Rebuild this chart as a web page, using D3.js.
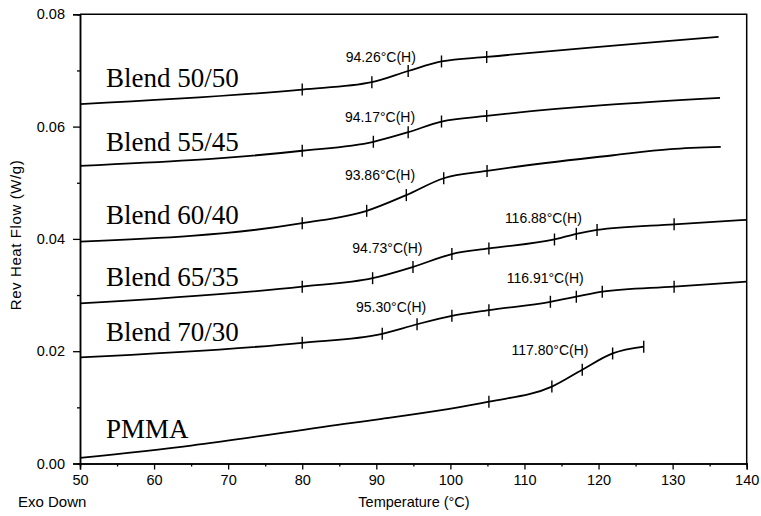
<!DOCTYPE html>
<html>
<head>
<meta charset="utf-8">
<script src="https://cdn.jsdelivr.net/npm/d3@7"></script>
<style>
  body { margin: 0; background: #fff; }
  text { font-family: "Liberation Sans", Arial, sans-serif; fill: #000; }
</style>
</head>
<body>
<div id="chart"></div>
<script>
// temperatures (°C) and reversing heat flow (W/g)
const temp5050 = [50, 80, 89.4, 94.3, 98.8, 104.9, 136.2];
const flow5050 = [0.0640, 0.0666, 0.0679, 0.0699, 0.0716, 0.0724, 0.0760];
const mark5050 = [80, 89.4, 94.3, 98.8, 104.9];

const temp5545 = [50, 80, 89.6, 94.3, 98.8, 104.9, 136.4];
const flow5545 = [0.0530, 0.0557, 0.0573, 0.0590, 0.0609, 0.0619, 0.0651];
const mark5545 = [80, 89.6, 94.3, 98.8, 104.9];

const temp6040 = [50, 80, 88.7, 94.05, 99.1, 104.95, 122, 129.7, 136.5];
const flow6040 = [0.0395, 0.0428, 0.0450, 0.0478, 0.0508, 0.0521, 0.0549, 0.0560, 0.0564];
const mark6040 = [80, 88.7, 94.05, 99.1, 104.95];

const temp6535 = [50, 80, 89.5, 94.95, 100.2, 105.2, 114.05, 117, 119.8, 130.2, 140];
const flow6535 = [0.0285, 0.0315, 0.0330, 0.0350, 0.0373, 0.0383, 0.0399, 0.0409, 0.0416, 0.0426, 0.0434];
const mark6535 = [80, 89.5, 94.95, 100.2, 105.2, 114.05, 117, 119.8, 130.2];

const temp7030 = [50, 80, 90.8, 95.5, 100.2, 105.2, 113.5, 117, 120.5, 130.2, 140];
const flow7030 = [0.0189, 0.0215, 0.0231, 0.0248, 0.0263, 0.0273, 0.0288, 0.0297, 0.0306, 0.0315, 0.0324];
const mark7030 = [80, 90.8, 95.5, 100.2, 105.2, 113.5, 117, 120.5, 130.2];

const tempPMMA = [50, 65, 86.5, 90.5, 105.2, 113.7, 117.8, 121.9, 126.1];
const flowPMMA = [0.0010, 0.0032, 0.0072, 0.0079, 0.0110, 0.0137, 0.0167, 0.0196, 0.0208];
const markPMMA = [105.2, 113.7, 117.8, 121.9, 126.1];

const seriesNames = ["Blend 50/50", "Blend 55/45", "Blend 60/40", "Blend 65/35", "Blend 70/30", "PMMA"];
const tgTexts = ["94.26°C(H)", "94.17°C(H)", "93.86°C(H)", "94.73°C(H)", "116.88°C(H)", "95.30°C(H)", "116.91°C(H)", "117.80°C(H)"];

const xTicks = [50, 60, 70, 80, 90, 100, 110, 120, 130, 140];
const yTicks = [0, 0.02, 0.04, 0.06, 0.08];

// annotation anchors in data units (temp, flow)
const nameAnchors = [[53.5, 0.0671], [53.5, 0.0557], [53.5, 0.04265], [53.5, 0.0316], [53.5, 0.0219], [53.5, 0.0045]];
const tgAnchors = [[90.6, 0.0715], [90.5, 0.0609], [90.5, 0.0505], [91.5, 0.0375],
                   [112.55, 0.0428], [92.0, 0.0270], [112.8, 0.0321], [113.45, 0.0193]];

const width = 761, height = 516;
const x = d3.scaleLinear().domain([50, 140]).range([80, 746.7]);
const y = d3.scaleLinear().domain([0, 0.08]).range([463.5, 14.3]);

const svg = d3.select("#chart")
  .append("svg")
    .attr("width", width)
    .attr("height", height);

// frame: top and right lines
svg.append("path")
  .attr("d", `M${x(50)},${y(0.08)}H${x(140)}V${y(0)}`)
  .attr("fill", "none")
  .attr("stroke", "#000")
  .attr("stroke-width", 1.5);

svg.append("g")
  .attr("transform", `translate(${x(50)},0)`)
  .call(d3.axisLeft(y).tickValues(yTicks).tickFormat(d3.format(".2f")).tickSize(7).tickPadding(8));
svg.append("g")
  .attr("transform", `translate(${x(50)},0)`)
  .call(d3.axisLeft(y).tickValues([0.01, 0.03, 0.05, 0.07]).tickFormat("").tickSize(3));

svg.append("g")
  .attr("transform", `translate(0,${y(0)})`)
  .call(d3.axisBottom(x).tickValues(xTicks).tickSize(6).tickPadding(5));
svg.append("g")
  .attr("transform", `translate(0,${y(0)})`)
  .call(d3.axisBottom(x).tickValues([55, 65, 75, 85, 95, 105, 115, 125, 135]).tickFormat("").tickSize(3));

svg.selectAll(".domain").attr("stroke-width", 1.5);
svg.selectAll(".tick line").attr("stroke-width", 1.3);
svg.selectAll(".tick text")
  .style("font-family", "'Liberation Sans', Arial, sans-serif")
  .style("font-size", "14.5px");

// axis titles
svg.append("text")
  .attr("transform", `translate(21,235) rotate(-90)`)
  .attr("text-anchor", "middle")
  .style("font-size", "15px")
  .style("letter-spacing", "0.6px")
  .text("Rev Heat Flow (W/g)");
svg.append("text")
  .attr("x", 18).attr("y", 507)
  .style("font-size", "15px")
  .text("Exo Down");
svg.append("text")
  .attr("x", 414).attr("y", 507)
  .attr("text-anchor", "middle")
  .style("font-size", "14.5px")
  .text("Temperature (°C)");

// traces
const series = [
  [temp5050, flow5050, mark5050],
  [temp5545, flow5545, mark5545],
  [temp6040, flow6040, mark6040],
  [temp6535, flow6535, mark6535],
  [temp7030, flow7030, mark7030],
  [tempPMMA, flowPMMA, markPMMA]
];

const line = d3.line()
  .x(d => x(d[0]))
  .y(d => y(d[1]))
  .curve(d3.curveMonotoneX);

series.forEach(function(s) {
  const pts = s[0].map((t, i) => [t, s[1][i]]);
  svg.append("path")
    .attr("d", line(pts))
    .attr("fill", "none")
    .attr("stroke", "#000")
    .attr("stroke-width", 1.8);

  const marks = pts.filter(p => s[2].includes(p[0]));
  svg.selectAll(null)
    .data(marks)
    .enter()
    .append("line")
      .attr("x1", d => x(d[0]))
      .attr("x2", d => x(d[0]))
      .attr("y1", d => y(d[1]) - 6)
      .attr("y2", d => y(d[1]) + 6)
      .attr("stroke", "#000")
      .attr("stroke-width", 1.4);
});

// series names
svg.selectAll(null)
  .data(seriesNames)
  .enter()
  .append("text")
    .attr("x", (d, i) => x(nameAnchors[i][0]))
    .attr("y", (d, i) => y(nameAnchors[i][1]))
    .style("font-family", "'Liberation Serif', 'Times New Roman', serif")
    .style("font-size", "27px")
    .text(d => d);

// glass transition labels
svg.selectAll(null)
  .data(tgTexts)
  .enter()
  .append("text")
    .attr("x", (d, i) => x(tgAnchors[i][0]))
    .attr("y", (d, i) => y(tgAnchors[i][1]))
    .attr("text-anchor", "middle")
    .style("font-size", "14px")
    .text(d => d);
</script>
</body>
</html>
